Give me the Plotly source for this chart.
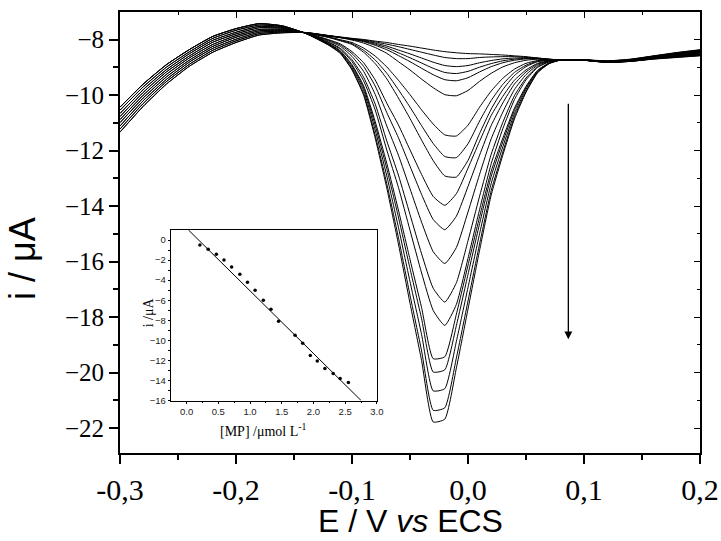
import plotly.graph_objects as go

# ---------------- data ----------------
E_V = [-0.30, -0.28, -0.26, -0.24, -0.22, -0.20, -0.18, -0.16, -0.14,
       -0.12, -0.11, -0.10, -0.09, -0.08, -0.07, -0.06, -0.05, -0.04, -0.03,
       -0.02, -0.01, 0.00, 0.01, 0.02, 0.03, 0.04, 0.05, 0.06, 0.07, 0.08,
       0.10, 0.12, 0.14, 0.16, 0.18, 0.20]

scan_01 = [-11.33, -10.40, -9.60, -8.95, -8.45, -8.10, -7.83, -7.75, -7.74,
           -7.85, -7.90, -7.95, -7.99, -8.05, -8.10, -8.17, -8.23, -8.30, -8.37, -8.43, -8.47, -8.50, -8.51, -8.53, -8.55, -8.58, -8.61, -8.66, -8.70, -8.73,
           -8.74, -8.82, -8.78, -8.70, -8.64, -8.58]
scan_02 = [-11.33, -10.40, -9.60, -8.95, -8.45, -8.10, -7.83, -7.75, -7.74,
           -7.85, -7.91, -7.96, -8.01, -8.08, -8.16, -8.25, -8.35, -8.45, -8.55, -8.64, -8.68, -8.68, -8.64, -8.62, -8.61, -8.61, -8.63, -8.66, -8.70, -8.73,
           -8.74, -8.82, -8.78, -8.69, -8.63, -8.57]
scan_03 = [-11.22, -10.30, -9.51, -8.88, -8.38, -8.04, -7.78, -7.72, -7.74,
           -7.86, -7.91, -7.97, -8.03, -8.12, -8.23, -8.37, -8.51, -8.66, -8.81, -8.93, -8.97, -8.93, -8.83, -8.75, -8.69, -8.66, -8.65, -8.67, -8.71, -8.73,
           -8.74, -8.82, -8.78, -8.69, -8.62, -8.56]
scan_04 = [-11.22, -10.30, -9.51, -8.88, -8.38, -8.04, -7.78, -7.72, -7.74,
           -7.86, -7.92, -7.98, -8.05, -8.16, -8.29, -8.47, -8.65, -8.84, -9.03, -9.18, -9.22, -9.14, -8.99, -8.86, -8.76, -8.70, -8.67, -8.68, -8.71, -8.73,
           -8.74, -8.81, -8.77, -8.68, -8.61, -8.54]
scan_05 = [-11.11, -10.20, -9.43, -8.80, -8.31, -7.98, -7.73, -7.69, -7.75,
           -7.86, -7.92, -7.99, -8.07, -8.20, -8.36, -8.57, -8.79, -9.03, -9.26, -9.44, -9.48, -9.37, -9.16, -8.97, -8.83, -8.74, -8.69, -8.69, -8.71, -8.73,
           -8.74, -8.81, -8.77, -8.67, -8.60, -8.53]
scan_06 = [-11.11, -10.20, -9.43, -8.80, -8.31, -7.98, -7.73, -7.69, -7.75,
           -7.87, -7.93, -8.01, -8.12, -8.28, -8.49, -8.79, -9.09, -9.42, -9.73, -9.98, -10.02, -9.83, -9.50, -9.21, -8.98, -8.83, -8.74, -8.70, -8.72, -8.73,
           -8.74, -8.81, -8.77, -8.67, -8.59, -8.52]
scan_07 = [-10.99, -10.10, -9.34, -8.73, -8.24, -7.91, -7.68, -7.66, -7.75,
           -7.90, -8.00, -8.10, -8.30, -8.59, -8.98, -9.46, -9.98, -10.53, -11.04, -11.43, -11.47, -11.08, -10.43, -9.85, -9.39, -9.06, -8.85, -8.75, -8.73, -8.73,
           -8.74, -8.80, -8.77, -8.66, -8.58, -8.51]
scan_08 = [-10.99, -10.10, -9.34, -8.73, -8.24, -7.91, -7.68, -7.66, -7.75,
           -7.91, -8.02, -8.14, -8.38, -8.73, -9.21, -9.80, -10.43, -11.10, -11.74, -12.21, -12.25, -11.75, -10.93, -10.19, -9.61, -9.18, -8.92, -8.77, -8.74, -8.73,
           -8.74, -8.80, -8.76, -8.65, -8.57, -8.49]
scan_09 = [-10.88, -10.00, -9.25, -8.65, -8.17, -7.85, -7.63, -7.63, -7.75,
           -7.92, -8.04, -8.17, -8.45, -8.86, -9.41, -10.10, -10.84, -11.62, -12.36, -12.91, -12.95, -12.35, -11.38, -10.50, -9.80, -9.29, -8.97, -8.79, -8.75, -8.73,
           -8.74, -8.80, -8.76, -8.65, -8.56, -8.48]
scan_10 = [-10.88, -10.00, -9.25, -8.65, -8.17, -7.85, -7.63, -7.63, -7.75,
           -8.00, -8.15, -8.43, -8.83, -9.45, -10.29, -11.07, -11.97, -12.86, -13.65, -13.97, -13.55, -12.63, -11.66, -10.73, -10.04, -9.46, -9.09, -8.85, -8.76, -8.73,
           -8.73, -8.79, -8.75, -8.64, -8.55, -8.47]
scan_11 = [-10.77, -9.90, -9.16, -8.58, -8.09, -7.79, -7.57, -7.59, -7.76,
           -8.02, -8.19, -8.50, -8.96, -9.67, -10.63, -11.53, -12.56, -13.58, -14.48, -14.85, -14.36, -13.29, -12.16, -11.09, -10.28, -9.60, -9.16, -8.88, -8.77, -8.73,
           -8.73, -8.79, -8.75, -8.63, -8.54, -8.46]
scan_12 = [-10.77, -9.90, -9.16, -8.58, -8.09, -7.79, -7.57, -7.59, -7.76,
           -8.05, -8.24, -8.60, -9.14, -9.97, -11.11, -12.16, -13.37, -14.58, -15.64, -16.07, -15.49, -14.21, -12.85, -11.57, -10.61, -9.80, -9.26, -8.92, -8.78, -8.73,
           -8.73, -8.79, -8.74, -8.63, -8.53, -8.45]
scan_13 = [-10.66, -9.80, -9.08, -8.50, -8.02, -7.73, -7.52, -7.56, -7.76,
           -8.09, -8.31, -8.72, -9.35, -10.32, -11.65, -12.88, -14.30, -15.72, -16.96, -17.46, -16.76, -15.25, -13.64, -12.13, -10.98, -10.02, -9.38, -8.97, -8.79, -8.73,
           -8.73, -8.78, -8.74, -8.62, -8.52, -8.43]
scan_14 = [-10.66, -9.80, -9.08, -8.50, -8.02, -7.73, -7.52, -7.56, -7.76,
           -8.11, -8.34, -8.79, -9.48, -10.53, -11.98, -13.32, -14.87, -16.41, -17.76, -18.30, -17.54, -15.88, -14.12, -12.47, -11.21, -10.16, -9.45, -9.00, -8.80, -8.73,
           -8.73, -8.78, -8.74, -8.61, -8.51, -8.42]
scan_15 = [-10.54, -9.70, -8.99, -8.43, -7.95, -7.66, -7.47, -7.53, -7.77,
           -8.14, -8.40, -8.90, -9.66, -10.95, -12.46, -14.14, -15.92, -17.66, -19.50, -19.43, -17.89, -16.13, -14.38, -12.74, -11.55, -10.47, -9.68, -9.10, -8.84, -8.73,
           -8.73, -8.78, -8.73, -8.61, -8.50, -8.41]
scan_16 = [-10.54, -9.70, -8.99, -8.43, -7.95, -7.66, -7.47, -7.53, -7.77,
           -8.16, -8.42, -8.94, -9.73, -11.08, -12.65, -14.39, -16.25, -18.06, -19.98, -19.90, -18.30, -16.46, -14.63, -12.92, -11.68, -10.55, -9.73, -9.12, -8.84, -8.73,
           -8.73, -8.77, -8.73, -8.60, -8.49, -8.40]
scan_17 = [-10.43, -9.60, -8.90, -8.35, -7.88, -7.60, -7.42, -7.50, -7.77,
           -8.17, -8.45, -9.00, -9.83, -11.25, -12.91, -14.76, -16.72, -18.63, -20.66, -20.58, -18.87, -16.93, -14.99, -13.18, -11.86, -10.67, -9.79, -9.15, -8.85, -8.73,
           -8.73, -8.77, -8.71, -8.59, -8.48, -8.38]
scan_18 = [-10.43, -9.60, -8.90, -8.35, -7.88, -7.60, -7.42, -7.50, -7.77,
           -8.19, -8.48, -9.06, -9.94, -11.44, -13.19, -15.13, -17.21, -19.22, -21.36, -21.27, -19.47, -17.42, -15.36, -13.44, -12.05, -10.78, -9.86, -9.18, -8.86, -8.73,
           -8.73, -8.77, -8.71, -8.59, -8.47, -8.37]
scan_19 = [-10.43, -9.60, -8.90, -8.35, -7.88, -7.60, -7.42, -7.50, -7.77,
           -8.20, -8.50, -9.09, -10.00, -11.55, -13.35, -15.36, -17.50, -19.57, -21.78, -21.68, -19.83, -17.71, -15.59, -13.60, -12.16, -10.86, -9.90, -9.19, -8.86, -8.73,
           -8.72, -8.76, -8.70, -8.58, -8.46, -8.36]

SCANS = [scan_01, scan_02, scan_03, scan_04, scan_05, scan_06, scan_07, scan_08,
         scan_09, scan_10, scan_11, scan_12, scan_13, scan_14, scan_15, scan_16,
         scan_17, scan_18, scan_19]

# inset: calibration
MP_CONC = [0.21, 0.34, 0.47, 0.59, 0.71, 0.84, 0.96, 1.08, 1.21, 1.33, 1.45,
           1.71, 1.83, 1.95, 2.06, 2.18, 2.31, 2.42, 2.55]
MP_CURRENT = [-0.5, -0.93, -1.43, -2.0, -2.7, -3.4, -4.2, -5.0, -6.0, -6.9, -8.1,
              -9.5, -10.3, -11.5, -12.05, -12.8, -13.3, -13.8, -14.2]
FIT_CONC = [0.03, 2.75]
FIT_CURRENT = [1.0, -16.0]

# ticks
X_TICKS = [-0.3, -0.2, -0.1, 0.0, 0.1, 0.2]
X_TICK_LABELS = ["-0,3", "-0,2", "-0,1", "0,0", "0,1", "0,2"]
X_MINOR = [-0.25, -0.15, -0.05, 0.05, 0.15]
Y_TICKS = [-8, -10, -12, -14, -16, -18, -20, -22]
Y_MINOR = [-9, -11, -13, -15, -17, -19, -21]
IN_X_TICKS = [0.0, 0.5, 1.0, 1.5, 2.0, 2.5, 3.0]
IN_X_MINOR = [0.25, 0.75, 1.25, 1.75, 2.25, 2.75]
IN_Y_TICKS = [0, -2, -4, -6, -8, -10, -12, -14, -16]
IN_Y_MINOR = [-1, -3, -5, -7, -9, -11, -13, -15]

ARROW_X = 0.0865
ARROW_TOP = -10.25
ARROW_TIP = -18.8

# ---------------- figure ----------------
fig = go.Figure()
for s in SCANS:
    fig.add_trace(go.Scatter(x=E_V, y=s, mode="lines",
                             line=dict(color="black", width=1, shape="spline", smoothing=0.5),
                             showlegend=False, hoverinfo="skip"))

# empty traces that switch on the mirrored (inside-tick) top/right axes
fig.add_trace(go.Scatter(x=[None], y=[None], xaxis="x2", yaxis="y", showlegend=False))
fig.add_trace(go.Scatter(x=[None], y=[None], xaxis="x", yaxis="y2", showlegend=False))

# inset
fig.add_trace(go.Scatter(x=MP_CONC, y=MP_CURRENT, mode="markers",
                         marker=dict(color="black", size=3.5),
                         xaxis="x3", yaxis="y3", showlegend=False, hoverinfo="skip"))
fig.add_trace(go.Scatter(x=FIT_CONC, y=FIT_CURRENT, mode="lines",
                         line=dict(color="black", width=1),
                         xaxis="x3", yaxis="y3", showlegend=False, hoverinfo="skip"))

serif = "Liberation Serif"
sans = "Liberation Sans"

fig.update_layout(
    width=721, height=541,
    margin=dict(l=120, r=21, t=12, b=88),
    paper_bgcolor="white", plot_bgcolor="white",
    xaxis=dict(range=[-0.3, 0.2], tickvals=X_TICKS, ticktext=X_TICK_LABELS,
               ticks="outside", ticklen=9, tickwidth=1.5, tickcolor="black",
               minor=dict(tickvals=X_MINOR, ticks="outside", ticklen=5, tickwidth=1.5, tickcolor="black"),
               showline=True, linewidth=2, linecolor="black", mirror=True,
               showgrid=False, zeroline=False, automargin=False,
               tickfont=dict(family=serif, size=30, color="black")),
    yaxis=dict(range=[-22.9, -7.0], tickvals=Y_TICKS,
               ticks="outside", ticklen=9, tickwidth=1.5, tickcolor="black",
               minor=dict(tickvals=Y_MINOR, ticks="outside", ticklen=5, tickwidth=1.5, tickcolor="black"),
               showline=True, linewidth=2, linecolor="black", mirror=True,
               showgrid=False, zeroline=False, automargin=False,
               tickfont=dict(family=serif, size=25, color="black")),
    xaxis2=dict(overlaying="x", side="top", anchor="y", range=[-0.3, 0.2],
                tickvals=X_TICKS, ticks="inside", ticklen=6, tickwidth=1.2, tickcolor="black",
                minor=dict(tickvals=X_MINOR, ticks="inside", ticklen=3, tickwidth=1.2, tickcolor="black"),
                showticklabels=False, showgrid=False, zeroline=False, showline=False,
                automargin=False),
    yaxis2=dict(overlaying="y", side="right", anchor="x", range=[-22.9, -7.0],
                tickvals=Y_TICKS, ticks="inside", ticklen=6, tickwidth=1.2, tickcolor="black",
                minor=dict(tickvals=Y_MINOR, ticks="inside", ticklen=3, tickwidth=1.2, tickcolor="black"),
                showticklabels=False, showgrid=False, zeroline=False, showline=False,
                automargin=False),
    xaxis3=dict(domain=[0.0874, 0.443], anchor="y3", range=[-0.25, 3.0],
                tickvals=IN_X_TICKS, tickformat=".1f",
                ticks="outside", ticklen=2, tickwidth=1, tickcolor="black",
                minor=dict(tickvals=IN_X_MINOR, ticks="outside", ticklen=1.5, tickwidth=1, tickcolor="black"),
                showline=True, linewidth=1, linecolor="black", mirror=True,
                showgrid=False, zeroline=False, automargin=False,
                tickfont=dict(family=sans, size=9.5, color="#222222")),
    yaxis3=dict(domain=[0.119, 0.5057], anchor="x3", range=[-16, 1],
                tickvals=IN_Y_TICKS,
                ticks="outside", ticklen=2, tickwidth=1, tickcolor="black",
                minor=dict(tickvals=IN_Y_MINOR, ticks="outside", ticklen=1.5, tickwidth=1, tickcolor="black"),
                showline=True, linewidth=1, linecolor="black", mirror=True,
                showgrid=False, zeroline=False, automargin=False,
                tickfont=dict(family=sans, size=9.5, color="#222222")),
    annotations=[
        dict(x=ARROW_X, y=ARROW_TIP, ax=ARROW_X, ay=ARROW_TOP,
             xref="x", yref="y", axref="x", ayref="y",
             text="", showarrow=True, arrowhead=2, arrowsize=1.2,
             arrowwidth=1.3, arrowcolor="black"),
        # main axis titles
        dict(text="E / V <i>vs</i> ECS", xref="paper", yref="paper",
             x=0.5, y=-0.1995, showarrow=False, xanchor="center", yanchor="bottom",
             font=dict(family=sans, size=32, color="black")),
        dict(text="i / μA", xref="paper", yref="paper", textangle=-90,
             x=-0.169, y=0.442, showarrow=False, xanchor="center", yanchor="middle",
             font=dict(family=sans, size=36, color="black")),
        # inset axis titles
        dict(text="[MP] /μmol L<sup>-1</sup>", xref="paper", yref="paper",
             x=0.2466, y=0.052, showarrow=False, xanchor="center", yanchor="middle",
             font=dict(family=serif, size=14, color="black")),
        dict(text="i /μA", xref="paper", yref="paper", textangle=-90,
             x=0.049, y=0.32, showarrow=False, xanchor="center", yanchor="middle",
             font=dict(family=serif, size=14, color="black")),
    ],
)

fig.write_html("out.html", config={"displayModeBar": False},
               post_script="document.body.style.margin='0px';document.body.style.overflow='hidden';")
